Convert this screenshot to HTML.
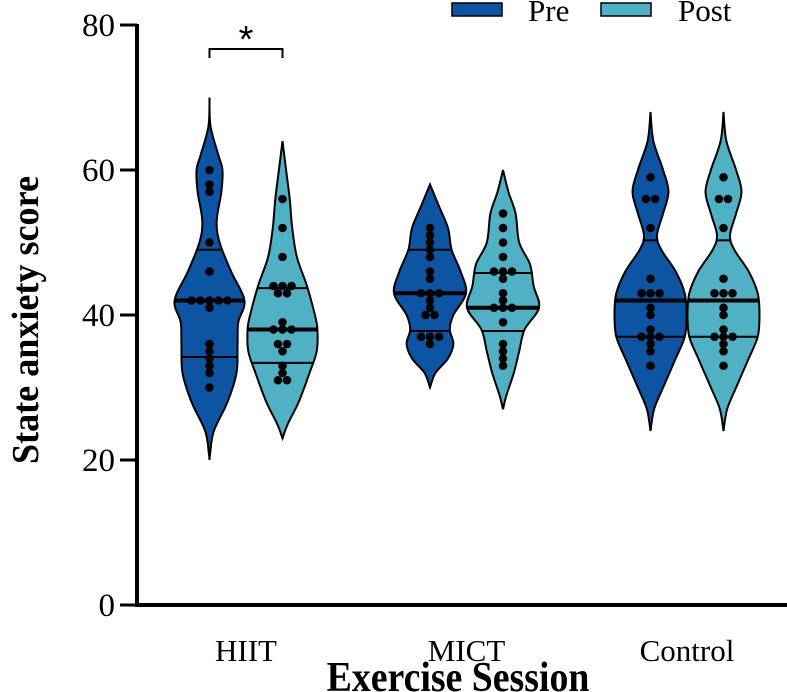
<!DOCTYPE html>
<html><head><meta charset="utf-8"><style>
body{margin:0;background:#fff}
svg{display:block;font-family:"Liberation Serif",serif}
</style></head><body>
<svg id="c" width="787" height="692" viewBox="0 0 787 692">
<g id="plot"></g>
<g id="axes"></g>
</svg>
<script>
const groups=["HIIT","MICT","Control"];
const yTicks=[0,20,40,60,80];
const seriesNames=["Pre","Post"];
const hiitPrePts=[60,58,57,50,46,42,42,42,42,42,41,36,35,34,33,32,30];
const hiitPostPts=[56,52,48,44,44,44,43,43,39,38,38,38,36,36,35,33,32,31,31];
const mictPrePts=[52,51,50,49,48,46,45,43,43,43,42,41,40,40,37,37,37,36];
const mictPostPts=[54,52,50,48,46,46,46,45,43,42,41,41,41,39,36,35,34,33];
const ctrlPrePts=[59,56,56,52,45,43,43,43,41,40,38,37,37,37,36,35,33];
const ctrlPostPts=[59,56,56,52,45,43,43,43,41,40,38,37,37,37,36,35,33];
const hiitPreQ=[34.2,42,49], hiitPostQ=[33.4,38,43.7];
const mictPreQ=[37.8,43,49], mictPostQ=[37.8,41,45.8];
const ctrlPreQ=[37,42,50.3], ctrlPostQ=[37,42,50.3];
const hiitPreLv=[70,66,62,60,57,53,50,46,42,39,36,32,28,24,21,20];
const hiitPreDen=[0,0.03,0.25,0.36,0.33,0.2,0.28,0.6,0.97,0.8,0.78,0.75,0.5,0.12,0.02,0];
const hiitPostLv=[64,60,56,52,48,44,40,38,35,32,28,25,23];
const hiitPostDen=[0,0.1,0.2,0.27,0.4,0.68,0.9,0.97,0.95,0.75,0.45,0.15,0];
const mictPreLv=[58,55,52,49,46,43,40,38,36,34,32,30];
const mictPreDen=[0,0.25,0.5,0.6,0.85,1.0,0.65,0.55,0.65,0.5,0.15,0];
const mictPostLv=[60,57,54,50,47,44,41,38,35,32,29,27];
const mictPostDen=[0,0.15,0.35,0.45,0.75,0.85,1.0,0.6,0.45,0.3,0.1,0];
const ctrlPreLv=[68,64,60,57,54,51,49,46,43,40,37,34,30,27,24];
const ctrlPreDen=[0,0.08,0.35,0.5,0.35,0.18,0.3,0.7,0.95,1.0,0.95,0.7,0.35,0.1,0];
const ctrlPostLv=ctrlPreLv, ctrlPostDen=ctrlPreDen;

const NS="http://www.w3.org/2000/svg";
const y0=605,y1=25,ax=137;
const yS=v=>y0-(v/80)*(y0-y1);
const gCenter=i=>246+i*220.5;
const xS=(gi,si)=>gCenter(gi)+(si===0?-36.5:36.5);
const HW=36;
const colors=["#0d55a3","#4fb1c3"];
function el(t,a,p){const e=document.createElementNS(NS,t);for(const k in a)e.setAttribute(k,a[k]);p.appendChild(e);return e;}
const plot=document.getElementById('plot'),axes=document.getElementById('axes');
function smooth(pts){let d="M"+pts[0][0]+","+pts[0][1];for(let i=0;i<pts.length-1;i++){const p0=pts[Math.max(0,i-1)],p1=pts[i],p2=pts[i+1],p3=pts[Math.min(pts.length-1,i+2)];
const c1=[p1[0]+(p2[0]-p0[0])/6,p1[1]+(p2[1]-p0[1])/6],c2=[p2[0]-(p3[0]-p1[0])/6,p2[1]-(p3[1]-p1[1])/6];d+=" C"+c1+" "+c2+" "+p2;}return d;}
function denAt(lv,dn,v){for(let i=0;i<lv.length-1;i++){if(v<=lv[i]&&v>=lv[i+1]){const t=(lv[i]-v)/(lv[i]-lv[i+1]);return dn[i]+(dn[i+1]-dn[i])*t;}}return 0;}
const V=[[hiitPreLv,hiitPreDen,hiitPrePts,hiitPreQ],[hiitPostLv,hiitPostDen,hiitPostPts,hiitPostQ],
[mictPreLv,mictPreDen,mictPrePts,mictPreQ],[mictPostLv,mictPostDen,mictPostPts,mictPostQ],
[ctrlPreLv,ctrlPreDen,ctrlPrePts,ctrlPreQ],[ctrlPostLv,ctrlPostDen,ctrlPostPts,ctrlPostQ]];
V.forEach((v,k)=>{
 const gi=Math.floor(k/2),si=k%2,cx=xS(gi,si),[lv,dn,pts,q]=v;
 const g=el('g',{},plot);
 
 
 el('line',{x1:cx,x2:cx,y1:yS(lv[0]),y2:yS(lv[lv.length-1]),stroke:'#000','stroke-width':2},g);
 const right=lv.map((l,i)=>[cx+dn[i]*HW,yS(l)]);
 const left=lv.map((l,i)=>[cx-dn[i]*HW,yS(l)]).reverse();
 const d=smooth(right)+" L"+smooth(left).slice(1)+" Z";
 const p=el('path',{d:d,fill:colors[si],stroke:'#000','stroke-width':2},g);
 
 
 q.forEach((qv,qi)=>{const w=denAt(lv,dn,qv)*HW;
  const ln=el('line',{x1:cx-w,x2:cx+w,y1:yS(qv),y2:yS(qv),stroke:'#000','stroke-width':qi===1?4:2},g);
  
  });
 const counts={};pts.forEach(x=>counts[x]=(counts[x]||0)+1);const seen={};
 pts.forEach(val=>{const n=counts[val];seen[val]=(seen[val]||0);const off=(seen[val]-(n-1)/2)*9;seen[val]++;
  const c=el('circle',{cx:cx+off,cy:yS(val),r:4.3,fill:'#000'},g);
  
  });
});
const ya=el('line',{x1:ax,x2:ax,y1:y1-1,y2:y0+2,stroke:'#000','stroke-width':4},axes);

const xa=el('line',{x1:ax-2,x2:787,y1:y0,y2:y0,stroke:'#000','stroke-width':4},axes);

yTicks.forEach(t=>{const l=el('line',{x1:ax-17,x2:ax,y1:yS(t),y2:yS(t),stroke:'#000','stroke-width':3},axes);
 
 const tx=el('text',{x:ax-22,y:yS(t)+11,'text-anchor':'end','font-size':33},axes);tx.textContent=t;
 });
groups.forEach((gname,i)=>{const tx=el('text',{x:gCenter(i),y:661,'text-anchor':'middle','font-size':31},axes);tx.textContent=gname;
 });
</script>
<svg style="position:absolute;left:0;top:0" width="787" height="692">
<text x="458" y="691" text-anchor="middle" font-size="42" font-weight="bold" font-family="Liberation Serif,serif" transform="translate(458 0) scale(0.9 1) translate(-458 0)">Exercise Session</text>
<text transform="translate(38 320) rotate(-90) scale(0.95 1)" text-anchor="middle" font-size="38" font-weight="bold" font-family="Liberation Serif,serif">State anxiety score</text>
<path d="M209.5,58 V49 H282.5 V58" fill="none" stroke="#000" stroke-width="2"/>
<text x="246" y="52" text-anchor="middle" font-size="38" font-family="Liberation Sans,sans-serif">*</text>
<g>
<rect x="452" y="3" width="50" height="13" fill="#0d55a3" stroke="#000" stroke-width="1.5"/>
<text x="528" y="21" font-size="31" font-family="Liberation Serif,serif">Pre</text>
<rect x="601" y="3" width="50" height="13" fill="#4fb1c3" stroke="#000" stroke-width="1.5"/>
<text x="678" y="21" font-size="31" font-family="Liberation Serif,serif">Post</text>
</g>
</svg>
</body></html>
